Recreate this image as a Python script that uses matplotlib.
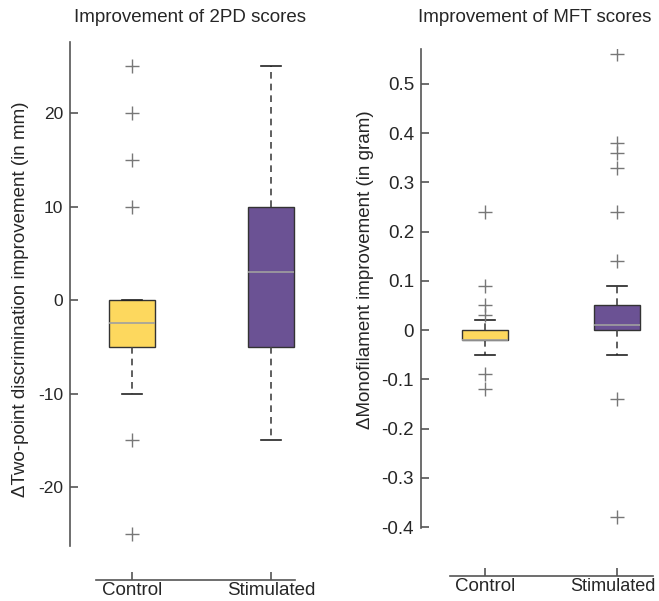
import matplotlib.pyplot as plt
from matplotlib.transforms import ScaledTranslation

plt.rcParams['font.family'] = ['Liberation Sans', 'DejaVu Sans']

groups = ['Control', 'Stimulated']
colors = ['#FDD85E', '#6B5294']

# 2PD (mm)
tpd_q1 = [-5, -5]
tpd_med = [-2.5, 3]
tpd_q3 = [0, 10]
tpd_lo = [-10, -15]
tpd_hi = [0, 25]
tpd_out = [[25, 20, 15, 10, -15, -25], []]

# MFT (gram)
mft_q1 = [-0.02, 0]
mft_med = [-0.02, 0.01]
mft_q3 = [0, 0.05]
mft_lo = [-0.05, -0.05]
mft_hi = [0.02, 0.09]
mft_out = [[0.24, 0.09, 0.05, 0.03, -0.09, -0.12],
           [0.56, 0.38, 0.36, 0.33, 0.24, 0.14, -0.14, -0.38]]

txt = '#262626'
spc = '#555555'


def stats(q1, med, q3, lo, hi, out):
    res = []
    for i in range(len(groups)):
        res.append({'q1': q1[i], 'med': med[i], 'q3': q3[i],
                    'whislo': lo[i], 'whishi': hi[i], 'fliers': out[i],
                    'label': groups[i]})
    return res


def draw(ax, st, width, ylim, xlim, xbounds, offset, yticks, yfmt, ysize):
    b = ax.bxp(st, positions=[1, 2], widths=width, patch_artist=True,
               capwidths=width * 0.45,
               boxprops=dict(edgecolor='#333333', linewidth=1.0),
               medianprops=dict(color='#a0a0a0', linewidth=1.2),
               whiskerprops=dict(color='#444444', linewidth=1.2, linestyle=(0, (4, 3))),
               capprops=dict(color='#222222', linewidth=1.2),
               flierprops=dict(marker='+', markersize=10, markeredgecolor='#777777',
                               markeredgewidth=1.0, linestyle='none'))
    for p, c in zip(b['boxes'], colors):
        p.set_facecolor(c)
    ax.set_ylim(*ylim)
    ax.set_xlim(*xlim)
    ax.set_yticks(yticks)
    ax.set_yticklabels([yfmt(v) for v in yticks])
    ax.set_xticks([1, 2])
    ax.set_xticklabels(groups)
    for s in ['top', 'right']:
        ax.spines[s].set_visible(False)
    ax.spines['bottom'].set_position(('outward', offset))
    ax.spines['bottom'].set_bounds(*xbounds)
    for s in ['left', 'bottom']:
        ax.spines[s].set_color(spc)
        ax.spines[s].set_linewidth(1.2)
    ax.tick_params(direction='in', length=6, width=1.2, color=spc,
                   labelcolor=txt, pad=5)
    ax.tick_params(axis='x', labelsize=13.5, pad=1.5)
    ax.tick_params(axis='y', labelsize=ysize)


fig = plt.figure(figsize=(6.59, 6.01), dpi=100)

ax1 = fig.add_axes([70 / 659, 1 - 546 / 601, 230 / 659, 504 / 601])
draw(ax1, stats(tpd_q1, tpd_med, tpd_q3, tpd_lo, tpd_hi, tpd_out), 0.33,
     (-26.3, 27.6), (0.554, 2.21), (0.741, 2.173), 24.5,
     [-20, -10, 0, 10, 20], lambda v: '%d' % v, 12.5)
ax1.set_ylabel('ΔTwo-point discrimination improvement (in mm)', fontsize=13.5, color=txt)
ax1.yaxis.set_label_coords(-0.18, 0.49)

ax2 = fig.add_axes([421 / 659, 1 - 528 / 601, 234 / 659, 479 / 601])
draw(ax2, stats(mft_q1, mft_med, mft_q3, mft_lo, mft_hi, mft_out), 0.35,
     (-0.402, 0.571), (0.515, 2.288), (0.735, 2.27), 34.5,
     [-0.4, -0.3, -0.2, -0.1, 0, 0.1, 0.2, 0.3, 0.4, 0.5],
     lambda v: '0' if v == 0 else ('%.1f' % v), 13.5)
ax2.set_ylabel('ΔMonofilament improvement (in gram)', fontsize=13.5, color=txt)
ax2.yaxis.set_label_coords(-0.2, 0.54)

# keep the last label inside the canvas
lab = ax2.get_xticklabels()[1]
lab.set_fontsize(13)
lab.set_transform(lab.get_transform() + ScaledTranslation(-4 / 100, 0, fig.dpi_scale_trans))

fig.text(189.5 / 659, 1 - 18 / 601, 'Improvement of 2PD scores', ha='center', va='center',
         fontsize=13.5, color=txt)
fig.text(535 / 659, 1 - 18 / 601, 'Improvement of MFT scores', ha='center', va='center',
         fontsize=13.5, color=txt)

fig.savefig('out.png', dpi=100)
